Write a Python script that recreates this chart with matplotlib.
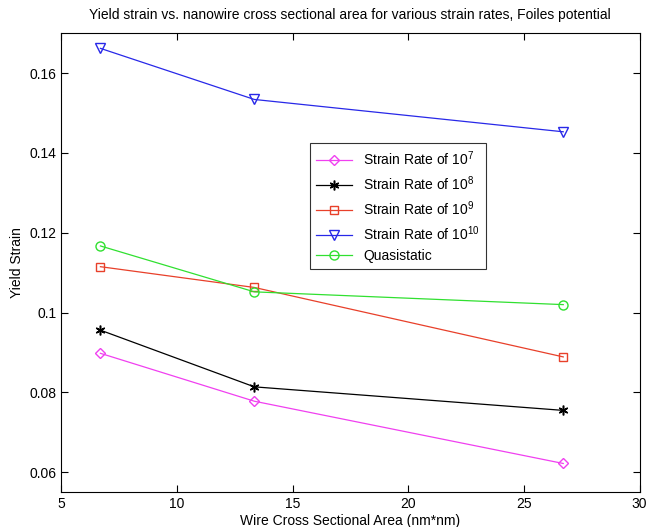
import matplotlib
matplotlib.use("Agg")
from matplotlib import pyplot as plt

plt.rcParams['font.family'] = ['Liberation Sans', 'DejaVu Sans']
plt.rcParams['mathtext.default'] = 'regular'

area = [6.7, 13.35, 26.7]
rate_1e7 = [0.0898, 0.0778, 0.0622]
rate_1e8 = [0.0956, 0.0814, 0.0755]
rate_1e9 = [0.1115, 0.1063, 0.0889]
rate_1e10 = [0.1662, 0.1534, 0.1453]
quasistatic = [0.1167, 0.1052, 0.1020]

labels = ['Strain Rate of 10$^{7}$', 'Strain Rate of 10$^{8}$',
          'Strain Rate of 10$^{9}$', 'Strain Rate of 10$^{10}$', 'Quasistatic']

fig = plt.figure(figsize=(6.5, 5.27), dpi=100)
ax = fig.add_axes([0.094, 0.066, 0.89, 0.871])

ax.plot(area, rate_1e7, color="#f040f0", marker="D", markersize=5.5,
        markerfacecolor="none", linewidth=0.9, label=labels[0])
ax.plot(area, rate_1e8, color="black", marker=(6, 2, 0), markersize=7,
        markeredgewidth=1.1, linewidth=0.9, label=labels[1])
ax.plot(area, rate_1e9, color="#e8402a", marker="s", markersize=5.5,
        markerfacecolor="none", linewidth=0.9, label=labels[2])
ax.plot(area, rate_1e10, color="#2828e8", marker="v", markersize=6.5,
        markerfacecolor="none", linewidth=0.9, label=labels[3])
ax.plot(area, quasistatic, color="#30e030", marker="o", markersize=6.5,
        markerfacecolor="none", linewidth=0.9, label=labels[4])

ax.set_xlim(5, 30)
ax.set_ylim(0.055, 0.17)
ax.set_xticks([5, 10, 15, 20, 25, 30])
ax.set_xticklabels(['5', '10', '15', '20', '25', '30'])
ax.set_yticks([0.06, 0.08, 0.1, 0.12, 0.14, 0.16])
ax.set_yticklabels(['0.06', '0.08', '0.1', '0.12', '0.14', '0.16'])
ax.tick_params(direction='in', top=True, right=True, labelsize=10, length=5)
for s in ax.spines.values():
    s.set_linewidth(0.8)

ax.set_title("Yield strain vs. nanowire cross sectional area for various strain rates, Foiles potential",
             fontsize=10, pad=10)
ax.set_xlabel("Wire Cross Sectional Area (nm*nm)", fontsize=10, labelpad=2)
ax.set_ylabel("Yield Strain", fontsize=10)

leg = ax.legend(loc='upper left', bbox_to_anchor=(0.43, 0.76), fontsize=10,
                frameon=True, fancybox=False, edgecolor='black',
                borderaxespad=0, handlelength=2.6, borderpad=0.45,
                labelspacing=0.45)
leg.get_frame().set_linewidth(0.8)

fig.savefig("out.png", dpi=100)
